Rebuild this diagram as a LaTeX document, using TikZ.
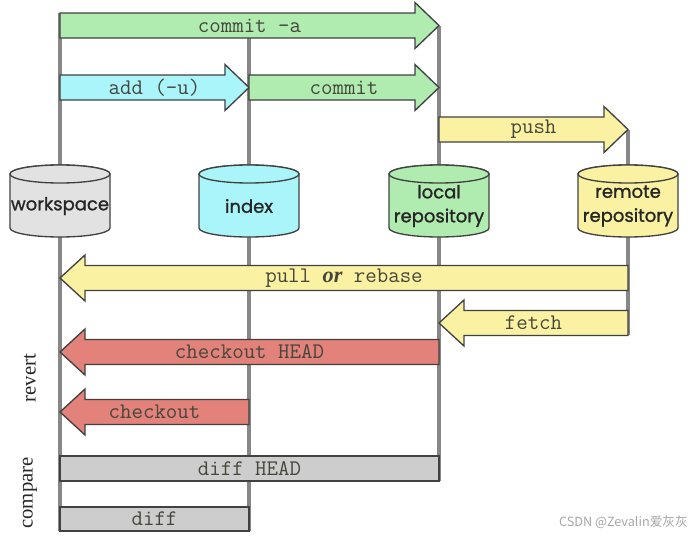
\documentclass[tikz,border=0pt]{standalone}
\usepackage{fontspec}
\usetikzlibrary{calc,backgrounds}
\newfontfamily\monofont{Latin Modern Mono}
\newfontfamily\roundfont{Poppins}[FakeBold=1.2]
\newfontfamily\seriffont{Liberation Serif}
\newfontfamily\cjk{Noto Sans CJK SC}

\definecolor{lanegray}{RGB}{135,135,135}
\definecolor{edgegray}{RGB}{65,65,65}
\definecolor{txtgray}{RGB}{70,70,60}
\definecolor{wsgray}{RGB}{226,226,226}
\definecolor{idxcyan}{RGB}{170,245,250}
\definecolor{locgreen}{RGB}{176,236,176}
\definecolor{remyellow}{RGB}{250,242,162}
\definecolor{revred}{RGB}{226,130,122}
\definecolor{boxgray}{RGB}{205,205,205}

\tikzset{
  lane/.style={draw=lanegray,line width=2.4pt},
  blockarrow/.style={draw=edgegray,line width=1pt,line join=miter},
  cmd/.style={font=\monofont\fontsize{16.7}{18}\selectfont,text=txtgray,inner sep=0pt},
  store/.style={font=\roundfont\fontsize{13.5}{18}\selectfont,text=black!85,align=center,inner sep=0pt},
  side/.style={font=\seriffont\fontsize{15.5}{18}\selectfont,text=black!85,rotate=90,inner sep=0pt},
  wmark/.style={font=\cjk\fontsize{9.5}{11}\selectfont,text=black!35,inner sep=0pt}
}

% cylinder: name, x, colour, text
\newcommand{\storage}[4]{%
  \draw[blockarrow,fill=#3] (#2-50,174) -- (#2-50,228)
    arc[start angle=180,end angle=0,x radius=50,y radius=9] -- (#2+50,174)
    arc[start angle=0,end angle=-180,x radius=50,y radius=9] -- cycle;
  \draw[blockarrow,fill=#3] (#2,174) ellipse[x radius=50,y radius=9];
  \node[store] (#1) at (#2,206) {#4};}

% arrow to the right: name, from, to, row, colour, label
\newcommand{\toright}[6]{%
  \path (#2 |- 0,#4) coordinate (#1-s) (#3 |- 0,#4) coordinate (#1-e);
  \draw[blockarrow,fill=#5] ($(#1-s)+(0,-12.5)$) -- ($(#1-e)+(-24,-12.5)$)
    -- ($(#1-e)+(-24,-23)$) -- (#1-e) -- ($(#1-e)+(-24,23)$)
    -- ($(#1-e)+(-24,12.5)$) -- ($(#1-s)+(0,12.5)$) -- cycle;
  \node[cmd] (#1) at ($(#1-s)!.5!(#1-e)$) {#6};}

% arrow to the left: name, from, to, row, colour, label
\newcommand{\toleft}[6]{%
  \path (#2 |- 0,#4) coordinate (#1-s) (#3 |- 0,#4) coordinate (#1-e);
  \draw[blockarrow,fill=#5] ($(#1-s)+(0,-12.5)$) -- ($(#1-e)+(25,-12.5)$)
    -- ($(#1-e)+(25,-23)$) -- (#1-e) -- ($(#1-e)+(25,23)$)
    -- ($(#1-e)+(25,12.5)$) -- ($(#1-s)+(0,12.5)$) -- cycle;
  \node[cmd] (#1) at ($(#1-s)!.5!(#1-e)$) {#6};}

\begin{document}
\begin{tikzpicture}[x=0.75pt,y=-0.75pt]
\useasboundingbox (0,0) rectangle (693,536);

\storage{ws}{60}{wsgray}{workspace}
\storage{idx}{249}{idxcyan}{index}
\storage{loc}{439}{locgreen}{local\\repository}
\storage{rem}{628}{remyellow}{remote\\repository}

\begin{scope}[on background layer]
\draw[lane] (ws |- 0,13) -- (ws |- 0,531);
\draw[lane] (idx |- 0,38) -- (idx |- 0,531);
\draw[lane] (loc |- 0,26) -- (loc |- 0,481);
\draw[lane] (rem |- 0,129.5) -- (rem |- 0,335);
\end{scope}

\toright{cma}{ws}{loc}{25.5}{locgreen}{commit -a}
\toright{add}{ws}{idx}{87.5}{idxcyan}{add (-u)}
\toright{cmt}{idx}{loc}{87.5}{locgreen}{commit}
\toright{push}{loc}{rem}{129.5}{remyellow}{push}
\toleft{pull}{rem}{ws}{278}{remyellow}{pull {\seriffont\bfseries\itshape or} rebase}
\toleft{fetch}{rem}{loc}{323}{remyellow}{fetch}
\toleft{coh}{loc}{ws}{352}{revred}{checkout HEAD}
\toleft{co}{idx}{ws}{412}{revred}{checkout}

\draw[blockarrow,fill=boxgray] (ws |- 0,456) rectangle (loc |- 0,481);
\node[cmd] (dhead) at ($(ws |- 0,468.5)!.5!(loc |- 0,468.5)$) {diff HEAD};
\draw[blockarrow,fill=boxgray] (ws |- 0,507) rectangle (idx |- 0,531);
\node[cmd] (diff) at ($(ws |- 0,519)!.5!(idx |- 0,519)$) {diff};

\node[side] (revert) at (30,378) {revert};
\node[side] (compare) at (30,493) {compare};

\node[wmark,anchor=east] (csdn) at (688,522) {CSDN @Zevalin爱灰灰};
\end{tikzpicture}
\end{document}
